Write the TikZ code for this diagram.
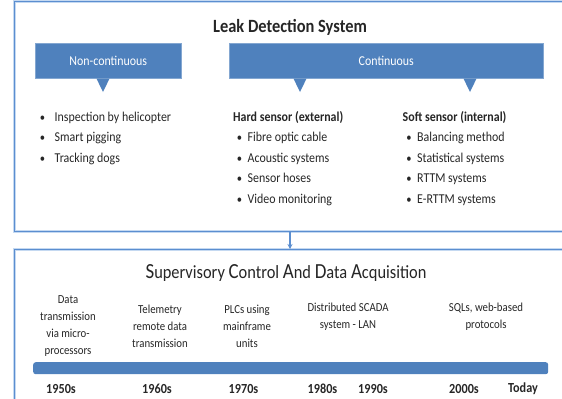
\documentclass[tikz,border=0pt]{standalone}
\usepackage{fontspec}
\setmainfont{Carlito}[FakeStretch=0.88]
\usetikzlibrary{arrows.meta}
\definecolor{boxblue}{HTML}{4F81BD}
\definecolor{frameblue}{HTML}{5B8ED0}
\definecolor{halo}{HTML}{C5D9F1}
\definecolor{txt}{HTML}{262626}
\tikzset{
  frame/.style={draw=frameblue, line width=1.3bp, inner sep=0pt, anchor=north west,
    preaction={draw=halo, line width=3.2bp}},
  callout/.style={fill=boxblue, draw=boxblue!70!white, line width=0.6bp, inner sep=0pt,
    text=white, font=\fontsize{13.6}{13.6}\selectfont, anchor=north west},
  tip/.style={fill=boxblue},
  item/.style={anchor=west, inner sep=0pt, text=txt, font=\fontsize{13.6}{13.6}\selectfont,
    text height=9.5bp, text depth=3bp},
  hdr/.style={item, font=\fontsize{13.6}{13.6}\selectfont\bfseries},
  bul/.style={item, anchor=center, font=\fontsize{12}{12}\selectfont},
  tl/.style={align=center, text=txt, inner sep=0pt, font=\fontsize{12.3}{17}\selectfont},
  yr/.style={text=txt, inner sep=0pt, font=\fontsize{13.9}{14}\selectfont\bfseries},
}
\newcommand{\bigc}[1]{{\fontsize{21.6}{21.6}\selectfont #1}}
\begin{document}
\begin{tikzpicture}[x=1bp,y=-1bp]
\useasboundingbox (0,0) rectangle (562,398);
\clip (0,0) rectangle (562,398);
% frames
\node[frame, minimum width=600bp, minimum height=229.5bp] (top) at (13.5,1) {};
\node[frame, minimum width=600bp, minimum height=200bp] (bot) at (13.5,249) {};
\coordinate (arr) at (290,240);
\draw[draw=frameblue, line width=1.2bp, -{Stealth[length=5bp,width=5bp]}] (top.south -| arr) -- (bot.north -| arr);
% title
\node[text=txt, font=\fontsize{18.75}{18.75}\selectfont\bfseries] (title) at (290,27) {Leak Detection System};
% callouts
\node[callout, minimum width=146bp, minimum height=35bp] (nc) at (35,43) {Non-continuous};
\node[callout, minimum width=314bp, minimum height=35bp] (co) at (229,43) {Continuous};
\fill[tip] ([xshift=-6.5bp]nc.south west -| 103,0) -- (103,92) -- ([xshift=6.5bp]nc.south west -| 103,0) -- cycle;
\fill[tip] ([xshift=-6.5bp]co.south west -| 300,0) -- (300,92) -- ([xshift=6.5bp]co.south west -| 300,0) -- cycle;
\fill[tip] ([xshift=-6.5bp]co.south west -| 470,0) -- (470,92) -- ([xshift=6.5bp]co.south west -| 470,0) -- cycle;
% non-continuous list
\node[bul] (b1) at (42.5,118) {•};
\node[item] (n1) at (54.5,118) {Inspection by helicopter};
\node[bul] (b2) at (42.5,138.5) {•};
\node[item] (n2) at (54.5,138.5) {Smart pigging};
\node[bul] (b3) at (42.5,159) {•};
\node[item] (n3) at (54.5,159) {Tracking dogs};
% hard sensor
\node[hdr] (h0) at (233,118) {Hard sensor (external)};
\node[bul] (hb1) at (239.5,138.5) {•};
\node[item] (h1) at (247.5,138.5) {Fibre optic cable};
\node[bul] (hb2) at (239.5,159) {•};
\node[item] (h2) at (247.5,159) {Acoustic systems};
\node[bul] (hb3) at (239.5,179.5) {•};
\node[item] (h3) at (247.5,179.5) {Sensor hoses};
\node[bul] (hb4) at (239.5,200) {•};
\node[item] (h4) at (247.5,200) {Video monitoring};
% soft sensor
\node[hdr] (s0) at (402.5,118) {Soft sensor (internal)};
\node[bul] (sb1) at (409,138.5) {•};
\node[item] (s1) at (417,138.5) {Balancing method};
\node[bul] (sb2) at (409,159) {•};
\node[item] (s2) at (417,159) {Statistical systems};
\node[bul] (sb3) at (409,179.5) {•};
\node[item] (s3) at (417,179.5) {RTTM systems};
\node[bul] (sb4) at (409,200) {•};
\node[item] (s4) at (417,200) {E-RTTM systems};
% SCADA
\node[text=txt, font=\fontsize{18.7}{19}\selectfont] (scada) at (286,273)
  {\bigc{S}upervisory \bigc{C}ontrol \bigc{A}nd \bigc{D}ata \bigc{A}cquisition};
\node[tl] (t1) at (68,326) {Data\\transmission\\via micro-\\processors};
\node[tl] (t2) at (160,326) {Telemetry\\remote data\\transmission};
\node[tl] (t3) at (247,326) {PLCs using\\mainframe\\units};
\node[tl] (t4) at (348,317) {Distributed SCADA\\system - LAN};
\node[tl] (t5) at (486,317) {SQLs, web-based\\protocols};
\node[fill=boxblue, rounded corners=2.5bp, minimum width=515bp, minimum height=12bp, inner sep=0pt, anchor=north west] (bar) at (33,362) {};
\node[yr] (y1) at (61,388.5) {1950s};
\node[yr] (y2) at (157,388.5) {1960s};
\node[yr] (y3) at (243.5,388.5) {1970s};
\node[yr] (y4) at (322.5,388.5) {1980s};
\node[yr] (y5) at (373,388.5) {1990s};
\node[yr] (y6) at (464,388.5) {2000s};
\node[yr] (y7) at (523,388.5) {Today};
\end{tikzpicture}
\end{document}
